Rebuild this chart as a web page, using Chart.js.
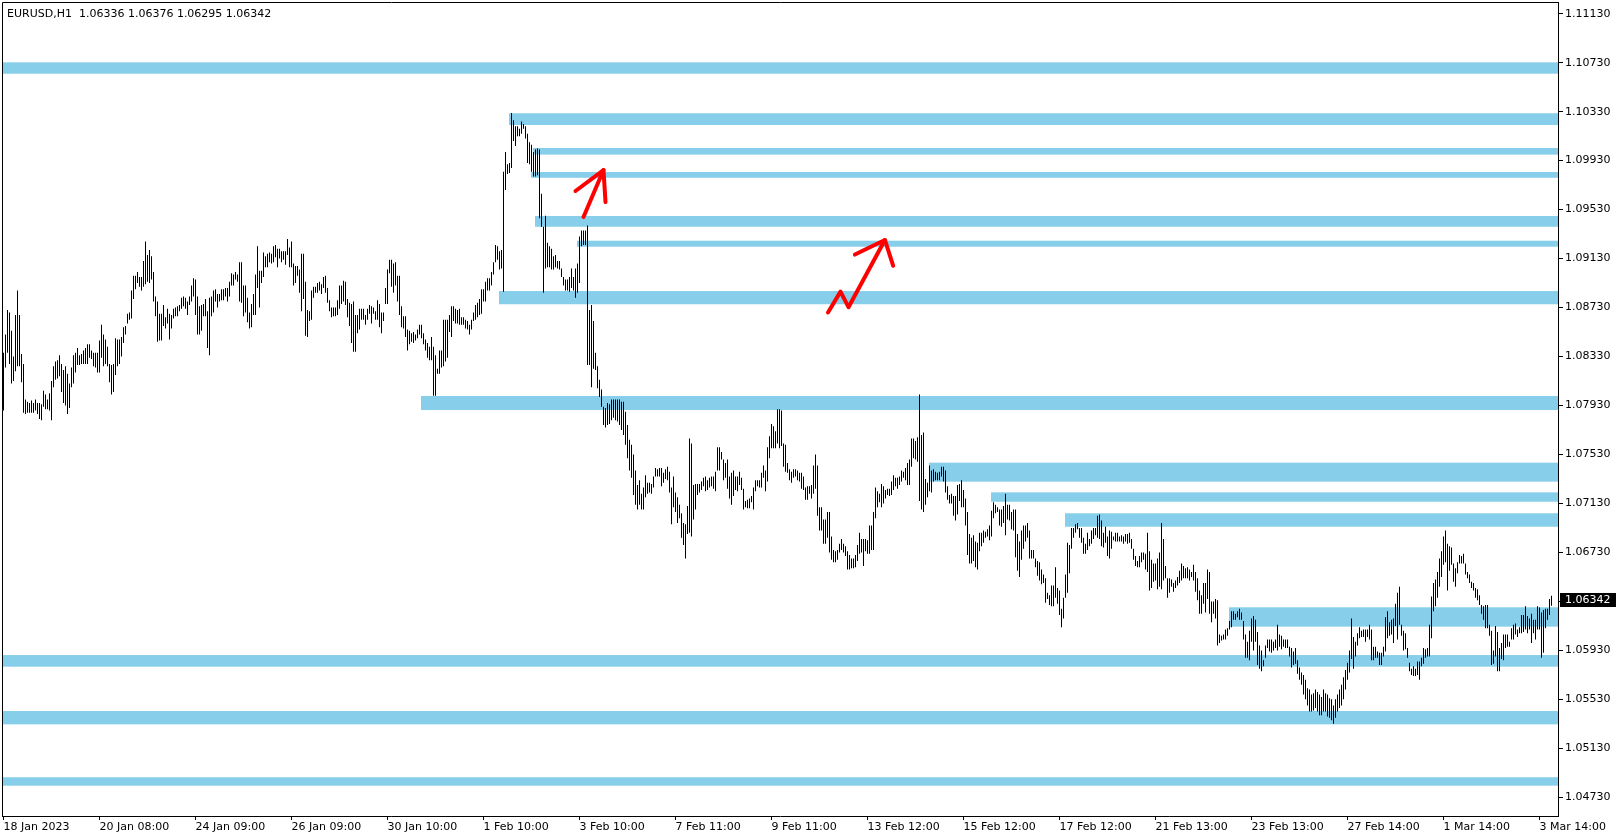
<!DOCTYPE html>
<html>
<head>
<meta charset="utf-8">
<script src="https://cdn.jsdelivr.net/npm/chart.js"></script>
<style>
    body { margin: 0; background: #fff; }
    canvas { display: block; }
</style>
</head>
<body>
<canvas id="chart" width="1622" height="840"></canvas>
<script>
    let symbol = 'EURUSD,H1';
    let lastQuote = [1.06336, 1.06376, 1.06295, 1.06342]; // open high low close of the last bar

    // one label every 48 hourly bars
    let dateLabels = ['18 Jan 2023', '20 Jan 08:00', '24 Jan 09:00', '26 Jan 09:00', '30 Jan 10:00', '1 Feb 10:00',
        '3 Feb 10:00', '7 Feb 11:00', '9 Feb 11:00', '13 Feb 12:00', '15 Feb 12:00', '17 Feb 12:00',
        '21 Feb 13:00', '23 Feb 13:00', '27 Feb 14:00', '1 Mar 14:00', '3 Mar 14:00'];

    let priceTicks = [1.0473, 1.0513, 1.0553, 1.0593, 1.0633, 1.0673, 1.0713, 1.0753, 1.0793,
        1.0833, 1.0873, 1.0913, 1.0953, 1.0993, 1.1033, 1.1073, 1.1113];

    let highs = [
        1.0836,1.0851,1.0871,1.0869,1.0854,1.0833,1.0867,1.0887,1.0867,1.0835,
        1.0827,1.0798,1.0796,1.0795,1.0797,1.0795,1.0798,1.0795,1.0795,1.0794,
        1.0805,1.0802,1.0798,1.0803,1.0813,1.0825,1.0829,1.0830,1.0834,1.0827,
        1.0822,1.0825,1.0819,1.0811,1.0824,1.0834,1.0836,1.0840,1.0834,1.0835,
        1.0838,1.0840,1.0843,1.0843,1.0838,1.0836,1.0836,1.0836,1.0846,1.0859,
        1.0851,1.0847,1.0841,1.0827,1.0826,1.0827,1.0848,1.0847,1.0847,1.0849,
        1.0857,1.0858,1.0868,1.0869,1.0887,1.0899,1.0899,1.0902,1.0898,1.0898,
        1.0911,1.0927,1.0916,1.0920,1.0915,1.0902,1.0882,1.0878,1.0868,1.0868,
        1.0875,1.0865,1.0872,1.0868,1.0867,1.0872,1.0873,1.0874,1.0875,1.0881,
        1.0882,1.0881,1.0878,1.0882,1.0891,1.0897,1.0896,1.0882,1.0874,1.0875,
        1.0876,1.0880,1.0870,1.0881,1.0882,1.0887,1.0888,1.0884,1.0884,1.0888,
        1.0888,1.0889,1.0889,1.0894,1.0901,1.0900,1.0902,1.0900,1.0910,1.0910,
        1.0891,1.0891,1.0881,1.0869,1.0876,1.0884,1.0900,1.0923,1.0903,1.0903,
        1.0918,1.0915,1.0917,1.0918,1.0917,1.0923,1.0924,1.0921,1.0921,1.0919,
        1.0919,1.0919,1.0929,1.0922,1.0927,1.0909,1.0907,1.0907,1.0904,1.0917,
        1.0917,1.0894,1.0871,1.0870,1.0887,1.0890,1.0890,1.0893,1.0894,1.0892,
        1.0898,1.0899,1.0889,1.0879,1.0873,1.0873,1.0873,1.0879,1.0891,1.0891,
        1.0895,1.0894,1.0880,1.0877,1.0876,1.0878,1.0867,1.0867,1.0872,1.0872,
        1.0872,1.0867,1.0872,1.0875,1.0874,1.0873,1.0870,1.0879,1.0876,1.0869,
        1.0869,1.0889,1.0904,1.0912,1.0912,1.0909,1.0910,1.0899,1.0899,1.0874,
        1.0866,1.0866,1.0855,1.0854,1.0852,1.0853,1.0851,1.0855,1.0859,1.0859,
        1.0852,1.0847,1.0844,1.0841,1.0849,1.0841,1.0834,1.0823,1.0838,1.0838,
        1.0863,1.0863,1.0863,1.0867,1.0874,1.0874,1.0872,1.0871,1.0872,1.0865,
        1.0865,1.0863,1.0862,1.0859,1.0863,1.0869,1.0875,1.0877,1.0880,1.0888,
        1.0888,1.0894,1.0897,1.0897,1.0902,1.0910,1.0924,1.0923,1.0919,1.0920,
        1.0984,1.1000,1.0990,1.0991,1.1032,1.1026,1.1021,1.1021,1.1019,1.1025,
        1.1023,1.1021,1.1015,1.1008,1.1006,1.1000,1.1002,1.1003,1.1002,1.0966,
        1.0939,1.0948,1.0926,1.0923,1.0921,1.0915,1.0916,1.0911,1.0911,1.0905,
        1.0898,1.0896,1.0896,1.0898,1.0905,1.0898,1.0905,1.0909,1.0931,1.0936,
        1.0936,1.0936,1.0940,1.0871,1.0875,1.0862,1.0836,1.0825,1.0814,1.0806,
        1.0792,1.0791,1.0795,1.0794,1.0798,1.0798,1.0798,1.0798,1.0798,1.0796,
        1.0796,1.0788,1.0777,1.0765,1.0761,1.0753,1.0740,1.0728,1.0732,1.0721,
        1.0726,1.0736,1.0730,1.0730,1.0729,1.0735,1.0742,1.0741,1.0742,1.0742,
        1.0738,1.0741,1.0743,1.0739,1.0726,1.0735,1.0722,1.0718,1.0712,1.0705,
        1.0697,1.0696,1.0711,1.0766,1.0762,1.0728,1.0729,1.0729,1.0729,1.0731,
        1.0734,1.0735,1.0732,1.0734,1.0735,1.0735,1.0739,1.0759,1.0759,1.0755,
        1.0749,1.0746,1.0749,1.0735,1.0738,1.0740,1.0735,1.0735,1.0739,1.0734,
        1.0725,1.0715,1.0716,1.0717,1.0719,1.0726,1.0732,1.0732,1.0732,1.0738,
        1.0744,1.0740,1.0759,1.0768,1.0778,1.0776,1.0772,1.0790,1.0790,1.0789,
        1.0762,1.0761,1.0746,1.0741,1.0739,1.0741,1.0741,1.0740,1.0738,1.0738,
        1.0735,1.0726,1.0727,1.0727,1.0728,1.0744,1.0753,1.0744,1.0710,1.0710,
        1.0700,1.0700,1.0706,1.0706,1.0686,1.0675,1.0674,1.0675,1.0680,1.0684,
        1.0680,1.0678,1.0674,1.0671,1.0668,1.0668,1.0671,1.0679,1.0689,1.0684,
        1.0684,1.0684,1.0683,1.0695,1.0695,1.0706,1.0726,1.0723,1.0721,1.0729,
        1.0727,1.0724,1.0725,1.0725,1.0731,1.0736,1.0734,1.0734,1.0735,1.0740,
        1.0739,1.0742,1.0746,1.0749,1.0766,1.0766,1.0764,1.0767,1.0802,1.0769,
        1.0771,1.0733,1.0730,1.0744,1.0740,1.0741,1.0739,1.0738,1.0739,1.0743,
        1.0743,1.0740,1.0727,1.0720,1.0721,1.0719,1.0719,1.0728,1.0729,1.0732,
        1.0724,1.0717,1.0706,1.0688,1.0685,1.0687,1.0682,1.0681,1.0689,1.0689,
        1.0691,1.0690,1.0692,1.0695,1.0707,1.0714,1.0712,1.0710,1.0708,1.0708,
        1.0711,1.0721,1.0712,1.0712,1.0706,1.0708,1.0708,1.0688,1.0682,1.0691,
        1.0695,1.0695,1.0697,1.0691,1.0675,1.0675,1.0668,1.0666,1.0665,1.0659,
        1.0655,1.0652,1.0640,1.0638,1.0646,1.0646,1.0661,1.0644,1.0642,1.0627,
        1.0636,1.0655,1.0681,1.0679,1.0693,1.0693,1.0696,1.0697,1.0693,1.0693,
        1.0685,1.0680,1.0689,1.0684,1.0691,1.0693,1.0693,1.0703,1.0704,1.0699,
        1.0689,1.0694,1.0686,1.0691,1.0690,1.0686,1.0689,1.0689,1.0686,1.0687,
        1.0686,1.0688,1.0688,1.0689,1.0684,1.0676,1.0670,1.0666,1.0670,1.0673,
        1.0673,1.0672,1.0689,1.0674,1.0667,1.0664,1.0664,1.0668,1.0673,1.0697,
        1.0684,1.0662,1.0652,1.0652,1.0651,1.0648,1.0650,1.0653,1.0658,1.0664,
        1.0662,1.0660,1.0661,1.0659,1.0657,1.0663,1.0657,1.0652,1.0642,1.0638,
        1.0648,1.0648,1.0659,1.0657,1.0633,1.0633,1.0635,1.0634,1.0606,1.0605,
        1.0606,1.0610,1.0611,1.0617,1.0625,1.0625,1.0623,1.0625,1.0627,1.0624,
        1.0617,1.0606,1.0600,1.0609,1.0619,1.0621,1.0618,1.0608,1.0597,1.0593,
        1.0585,1.0597,1.0602,1.0602,1.0602,1.0600,1.0602,1.0614,1.0606,1.0605,
        1.0602,1.0602,1.0602,1.0596,1.0595,1.0592,1.0595,1.0585,1.0579,1.0575,
        1.0573,1.0569,1.0562,1.0561,1.0557,1.0558,1.0561,1.0559,1.0557,1.0555,
        1.0561,1.0558,1.0557,1.0554,1.0553,1.0548,1.0553,1.0557,1.0561,1.0565,
        1.0571,1.0577,1.0583,1.0593,1.0619,1.0604,1.0600,1.0607,1.0612,1.0609,
        1.0610,1.0610,1.0610,1.0614,1.0610,1.0596,1.0596,1.0592,1.0591,1.0591,
        1.0596,1.0620,1.0625,1.0616,1.0618,1.0619,1.0631,1.0640,1.0645,1.0614,
        1.0609,1.0607,1.0595,1.0583,1.0578,1.0580,1.0578,1.0584,1.0584,1.0587,
        1.0595,1.0594,1.0595,1.0614,1.0637,1.0648,1.0651,1.0657,1.0668,1.0674,
        1.0686,1.0691,1.0680,1.0678,1.0677,1.0664,1.0660,1.0665,1.0671,1.0670,
        1.0672,1.0664,1.0657,1.0655,1.0649,1.0648,1.0644,1.0643,1.0638,1.0630,
        1.0629,1.0630,1.0630,1.0614,1.0609,1.0593,1.0613,1.0608,1.0595,1.0599,
        1.0606,1.0606,1.0606,1.0600,1.0611,1.0614,1.0615,1.0610,1.0612,1.0622,
        1.0622,1.0629,1.0621,1.0619,1.0623,1.0618,1.0618,1.0629,1.0628,1.0624,
        1.0626,1.0627,1.0627,1.0635,1.06376
    ];

    let lows = [
        1.0789,1.0824,1.0836,1.0827,1.0811,1.0813,1.0821,1.0825,1.0825,1.0812,
        1.0787,1.0786,1.0787,1.0787,1.0787,1.0787,1.0789,1.0786,1.0782,1.0781,
        1.0792,1.0790,1.0790,1.0789,1.0781,1.0808,1.0814,1.0815,1.0817,1.0804,
        1.0795,1.0793,1.0786,1.0791,1.0808,1.0811,1.0820,1.0826,1.0826,1.0827,
        1.0827,1.0827,1.0827,1.0832,1.0831,1.0825,1.0824,1.0820,1.0820,1.0832,
        1.0825,1.0827,1.0825,1.0812,1.0802,1.0804,1.0818,1.0825,1.0827,1.0833,
        1.0844,1.0851,1.0860,1.0863,1.0864,1.0880,1.0888,1.0893,1.0890,1.0887,
        1.0890,1.0892,1.0894,1.0893,1.0896,1.0878,1.0866,1.0845,1.0846,1.0846,
        1.0858,1.0856,1.0860,1.0847,1.0856,1.0864,1.0866,1.0866,1.0870,1.0872,
        1.0874,1.0872,1.0867,1.0875,1.0878,1.0882,1.0867,1.0851,1.0851,1.0854,
        1.0866,1.0866,1.0840,1.0834,1.0866,1.0869,1.0878,1.0873,1.0878,1.0879,
        1.0879,1.0882,1.0878,1.0882,1.0891,1.0891,1.0896,1.0894,1.0878,1.0877,
        1.0866,1.0869,1.0861,1.0856,1.0857,1.0867,1.0867,1.0889,1.0873,1.0893,
        1.0898,1.0906,1.0906,1.0910,1.0909,1.0910,1.0914,1.0906,1.0913,1.0910,
        1.0912,1.0908,1.0916,1.0906,1.0906,1.0891,1.0893,1.0899,1.0885,1.0870,
        1.0880,1.0850,1.0849,1.0862,1.0863,1.0881,1.0885,1.0885,1.0887,1.0884,
        1.0889,1.0885,1.0877,1.0870,1.0865,1.0866,1.0866,1.0867,1.0872,1.0876,
        1.0878,1.0875,1.0865,1.0858,1.0844,1.0837,1.0837,1.0852,1.0855,1.0863,
        1.0863,1.0859,1.0863,1.0868,1.0860,1.0868,1.0863,1.0863,1.0857,1.0852,
        1.0862,1.0876,1.0876,1.0901,1.0890,1.0885,1.0891,1.0878,1.0867,1.0857,
        1.0856,1.0849,1.0838,1.0843,1.0845,1.0844,1.0846,1.0848,1.0851,1.0848,
        1.0843,1.0838,1.0832,1.0830,1.0830,1.0801,1.0801,1.0819,1.0819,1.0824,
        1.0825,1.0829,1.0832,1.0853,1.0849,1.0862,1.0860,1.0860,1.0859,1.0859,
        1.0859,1.0856,1.0855,1.0851,1.0855,1.0862,1.0863,1.0865,1.0867,1.0868,
        1.0878,1.0878,1.0887,1.0887,1.0891,1.0900,1.0910,1.0912,1.0904,1.0905,
        1.0886,1.0969,1.0982,1.0983,1.0987,1.1009,1.1005,1.1013,1.1013,1.1015,
        1.1019,1.1011,1.0991,1.0990,1.0984,1.0980,1.0980,1.0981,1.0946,1.0939,
        1.0885,1.0905,1.0906,1.0906,1.0904,1.0904,1.0906,1.0905,1.0904,1.0898,
        1.0891,1.0887,1.0887,1.0886,1.0889,1.0887,1.0881,1.0885,1.0893,1.0923,
        1.0924,1.0924,1.0826,1.0826,1.0808,1.0823,1.0822,1.0807,1.0800,1.0792,
        1.0777,1.0775,1.0777,1.0778,1.0781,1.0783,1.0781,1.0780,1.0777,1.0773,
        1.0769,1.0761,1.0750,1.0740,1.0734,1.0720,1.0712,1.0708,1.0712,1.0708,
        1.0708,1.0718,1.0721,1.0722,1.0721,1.0726,1.0735,1.0735,1.0735,1.0727,
        1.0730,1.0733,1.0732,1.0722,1.0696,1.0710,1.0706,1.0697,1.0701,1.0685,
        1.0679,1.0668,1.0688,1.0689,1.0686,1.0700,1.0708,1.0720,1.0722,1.0724,
        1.0727,1.0723,1.0724,1.0726,1.0727,1.0725,1.0723,1.0740,1.0740,1.0749,
        1.0732,1.0734,1.0725,1.0717,1.0712,1.0719,1.0724,1.0723,1.0728,1.0724,
        1.0708,1.0710,1.0709,1.0709,1.0714,1.0708,1.0723,1.0727,1.0726,1.0726,
        1.0734,1.0723,1.0731,1.0750,1.0758,1.0758,1.0758,1.0762,1.0758,1.0760,
        1.0743,1.0739,1.0738,1.0732,1.0730,1.0734,1.0735,1.0732,1.0731,1.0725,
        1.0724,1.0716,1.0716,1.0721,1.0717,1.0721,1.0725,1.0703,1.0691,1.0691,
        1.0680,1.0680,1.0685,1.0673,1.0667,1.0665,1.0665,1.0667,1.0673,1.0675,
        1.0673,1.0670,1.0659,1.0659,1.0660,1.0660,1.0661,1.0666,1.0672,1.0673,
        1.0662,1.0674,1.0672,1.0672,1.0675,1.0675,1.0701,1.0710,1.0714,1.0710,
        1.0713,1.0717,1.0720,1.0719,1.0720,1.0724,1.0727,1.0725,1.0728,1.0731,
        1.0734,1.0732,1.0728,1.0728,1.0743,1.0750,1.0749,1.0747,1.0715,1.0708,
        1.0706,1.0712,1.0718,1.0723,1.0722,1.0731,1.0732,1.0732,1.0732,1.0735,
        1.0731,1.0722,1.0716,1.0713,1.0713,1.0703,1.0699,1.0704,1.0715,1.0710,
        1.0710,1.0695,1.0671,1.0664,1.0664,1.0666,1.0661,1.0659,1.0674,1.0678,
        1.0681,1.0685,1.0686,1.0683,1.0686,1.0701,1.0705,1.0706,1.0695,1.0694,
        1.0697,1.0687,1.0700,1.0699,1.0692,1.0691,1.0669,1.0658,1.0653,1.0667,
        1.0676,1.0682,1.0685,1.0668,1.0668,1.0668,1.0661,1.0654,1.0650,1.0647,
        1.0648,1.0632,1.0635,1.0630,1.0629,1.0629,1.0636,1.0631,1.0622,1.0612,
        1.0619,1.0636,1.0640,1.0656,1.0676,1.0685,1.0689,1.0692,1.0685,1.0681,
        1.0672,1.0672,1.0675,1.0678,1.0680,1.0684,1.0687,1.0685,1.0684,1.0678,
        1.0677,1.0681,1.0670,1.0668,1.0676,1.0683,1.0682,1.0682,1.0682,1.0682,
        1.0680,1.0682,1.0680,1.0681,1.0676,1.0667,1.0662,1.0661,1.0661,1.0665,
        1.0667,1.0659,1.0657,1.0642,1.0644,1.0649,1.0650,1.0643,1.0645,1.0643,
        1.0650,1.0652,1.0636,1.0640,1.0645,1.0641,1.0644,1.0646,1.0648,1.0650,
        1.0652,1.0652,1.0652,1.0650,1.0653,1.0650,1.0641,1.0634,1.0623,1.0623,
        1.0631,1.0624,1.0635,1.0623,1.0616,1.0623,1.0619,1.0597,1.0599,1.0601,
        1.0602,1.0602,1.0605,1.0610,1.0612,1.0618,1.0618,1.0620,1.0618,1.0618,
        1.0602,1.0587,1.0587,1.0585,1.0600,1.0593,1.0600,1.0581,1.0578,1.0576,
        1.0580,1.0587,1.0595,1.0592,1.0591,1.0593,1.0595,1.0593,1.0596,1.0594,
        1.0596,1.0595,1.0595,1.0588,1.0579,1.0581,1.0582,1.0574,1.0569,1.0565,
        1.0557,1.0553,1.0548,1.0543,1.0543,1.0544,1.0546,1.0543,1.0540,1.0540,
        1.0543,1.0543,1.0539,1.0538,1.0536,1.0533,1.0538,1.0543,1.0546,1.0548,
        1.0553,1.0561,1.0569,1.0575,1.0586,1.0578,1.0588,1.0597,1.0603,1.0604,
        1.0604,1.0600,1.0604,1.0602,1.0585,1.0585,1.0587,1.0587,1.0581,1.0581,
        1.0588,1.0592,1.0603,1.0605,1.0606,1.0599,1.0613,1.0602,1.0614,1.0605,
        1.0593,1.0594,1.0587,1.0576,1.0573,1.0572,1.0572,1.0573,1.0569,1.0580,
        1.0582,1.0587,1.0588,1.0588,1.0603,1.0625,1.0629,1.0636,1.0645,1.0653,
        1.0663,1.0665,1.0642,1.0658,1.0663,1.0649,1.0645,1.0656,1.0664,1.0664,
        1.0664,1.0655,1.0652,1.0648,1.0644,1.0642,1.0636,1.0634,1.0630,1.0623,
        1.0618,1.0611,1.0611,1.0605,1.0581,1.0582,1.0588,1.0576,1.0576,1.0586,
        1.0585,1.0595,1.0596,1.0596,1.0602,1.0602,1.0606,1.0604,1.0607,1.0607,
        1.0608,1.0610,1.0607,1.0610,1.0599,1.0607,1.0602,1.0610,1.0610,1.0587,
        1.0591,1.0611,1.0618,1.0622,1.06295
    ];

    // supply / demand zones: first bar index (null = from the left edge), top and bottom price
    let zoneStart = [null, 253, 265, 264, 266, 287, 248, 209, 463, 494, 531, 613, null, null, null];
    let zoneTop = [1.10733, 1.10317, 1.10033, 1.09837, 1.09478, 1.09276, 1.08865, 1.08008,
        1.07463, 1.07221, 1.07050, 1.06282, 1.05892, 1.05435, 1.04894];
    let zoneBottom = [1.10640, 1.10221, 1.09979, 1.09790, 1.09390, 1.09227, 1.08757, 1.07893,
        1.07308, 1.07144, 1.06940, 1.06124, 1.05797, 1.05326, 1.04825];

    // hand drawn red arrows, as polylines in (bar index, price)
    let arrowX = [[290, 300], [286, 300, 301], [412.25, 418.5, 422.5, 440.7], [425.7, 440.7, 444.85]];
    let arrowY = [[1.0947, 1.09853], [1.09682, 1.09853, 1.09592],
        [1.0869, 1.0886, 1.08733, 1.09282], [1.09163, 1.09282, 1.09071]];

    Chart.defaults.font.family = '"DejaVu Sans", sans-serif';
    Chart.defaults.font.size = 11;
    Chart.defaults.color = '#000';

    let decor = {
        id: 'decor',
        beforeDatasetsDraw(chart) {
            let ctx = chart.ctx, a = chart.chartArea, x = chart.scales.x, y = chart.scales.y;
            ctx.save();
            ctx.beginPath();
            ctx.rect(a.left, a.top, a.right - a.left, a.bottom - a.top);
            ctx.clip();
            ctx.fillStyle = '#87ceeb';
            for (let i = 0; i < zoneTop.length; i++) {
                let left = zoneStart[i] === null ? a.left : x.getPixelForValue(zoneStart[i]) - 0.5;
                let y1 = y.getPixelForValue(zoneTop[i]);
                let y2 = y.getPixelForValue(zoneBottom[i]);
                ctx.fillRect(left, y1, a.right - left, y2 - y1);
            }
            ctx.restore();
        },
        afterDraw(chart) {
            let ctx = chart.ctx, a = chart.chartArea, y = chart.scales.y;
            ctx.save();
            ctx.strokeStyle = '#000';
            ctx.lineWidth = 1;
            ctx.beginPath();
            ctx.moveTo(a.left + 0.5, a.bottom);
            ctx.lineTo(a.left + 0.5, a.top + 0.5);
            ctx.lineTo(a.right, a.top + 0.5);
            ctx.stroke();

            ctx.font = '11px "DejaVu Sans"';
            ctx.fillStyle = '#000';
            ctx.textBaseline = 'alphabetic';
            ctx.fillText(symbol + '  ' + lastQuote.map(v => v.toFixed(5)).join(' '), 7, 17);

            let py = Math.round(y.getPixelForValue(lastQuote[3]));
            ctx.fillRect(a.right + 2, py - 7, 56, 14);
            ctx.fillStyle = '#fff';
            ctx.textBaseline = 'middle';
            ctx.fillText(lastQuote[3].toFixed(5), a.right + 7, py + 0.5);
            ctx.restore();
        }
    };

    let datasets = [{
        type: 'bar',
        data: highs.map((h, i) => ({ x: i, y: [lows[i], h] })),
        backgroundColor: '#000',
        borderWidth: 0,
        barThickness: 1,
        inflateAmount: 0,
        order: 2
    }];
    arrowX.forEach((xs, j) => {
        datasets.push({
            type: 'line',
            data: xs.map((v, i) => ({ x: v, y: arrowY[j][i] })),
            borderColor: '#ff0000',
            borderWidth: 4,
            borderCapStyle: 'round',
            borderJoinStyle: 'round',
            pointRadius: 0,
            tension: 0,
            order: 0
        });
    });

    new Chart(document.getElementById('chart').getContext('2d'), {
        type: 'bar',
        data: { datasets: datasets },
        plugins: [decor],
        options: {
            responsive: false,
            devicePixelRatio: 1,
            animation: false,
            events: [],
            layout: { padding: { left: 2, top: 2, right: 0, bottom: 0 } },
            plugins: { legend: { display: false }, tooltip: { enabled: false } },
            scales: {
                x: {
                    type: 'linear',
                    min: -0.75,
                    max: 777.25,
                    offset: false,
                    afterFit: s => { s.height = 24; s.paddingLeft = 0; s.paddingRight = 0; },
                    afterBuildTicks: s => { s.ticks = dateLabels.map((_, i) => ({ value: i * 48 })); },
                    grid: { drawOnChartArea: false, tickLength: 4, color: '#000', offset: false },
                    border: { color: '#000' },
                    ticks: {
                        align: 'start', maxRotation: 0, minRotation: 0, autoSkip: false, padding: 1,
                        callback: (v, i) => dateLabels[i]
                    }
                },
                y: {
                    type: 'linear',
                    position: 'right',
                    min: 1.045775,
                    max: 1.112256,
                    afterFit: s => { s.width = 64; s.paddingTop = 0; s.paddingBottom = 0; },
                    afterBuildTicks: s => { s.ticks = priceTicks.map(v => ({ value: v })); },
                    grid: { drawOnChartArea: false, tickLength: 5, color: '#000' },
                    border: { color: '#000' },
                    ticks: { padding: 2, callback: v => v.toFixed(5) }
                }
            }
        }
    });
</script>
</body>
</html>
